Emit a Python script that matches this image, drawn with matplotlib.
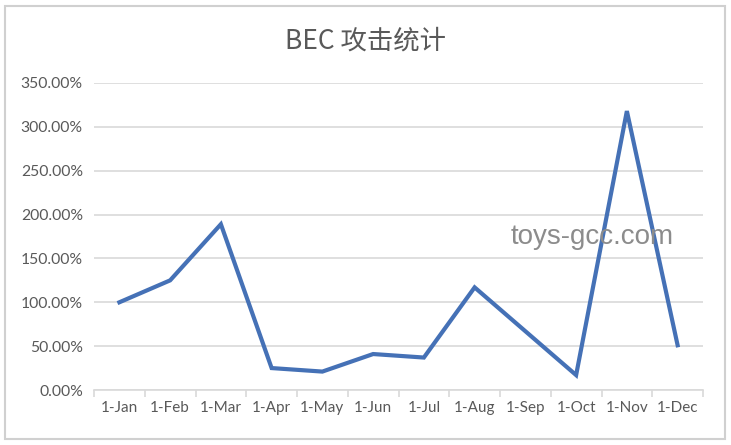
import numpy as np
import matplotlib.pyplot as plt
from matplotlib.patches import Rectangle
from matplotlib.ticker import FuncFormatter

months = ['1-Jan', '1-Feb', '1-Mar', '1-Apr', '1-May', '1-Jun',
          '1-Jul', '1-Aug', '1-Sep', '1-Oct', '1-Nov', '1-Dec']
rates = [1.00, 1.25, 1.89, 0.25, 0.21, 0.41, 0.37, 1.17, 0.67, 0.17, 3.18, 0.51]
yticks = [0, 0.5, 1.0, 1.5, 2.0, 2.5, 3.0, 3.5]

plt.rcParams['font.family'] = ['Lato', 'DejaVu Sans']
grey = '#595959'
line_grey = '#d9d9d9'

fig = plt.figure(figsize=(7.31, 4.45), dpi=100)
ax = fig.add_axes([94/731, 1 - 390/445, (703 - 94)/731, (390 - 83)/445])

x = np.arange(len(months))
ax.plot(x, rates, color='#4571B6', lw=3, solid_joinstyle='miter', zorder=3)

ax.set_xlim(-0.5, len(months) - 0.5)
ax.set_ylim(0, 3.5)
ax.set_yticks(yticks)
ax.yaxis.set_major_formatter(FuncFormatter(lambda v, p: f'{v*100:.2f}%'))
ax.grid(axis='y', color=line_grey, lw=1.2)
ax.set_axisbelow(True)

# category boundaries as tick marks, labels at the centres
ax.set_xticks(np.arange(-0.5, len(months)), labels=[])
ax.set_xticks(x, labels=months, minor=True)
ax.tick_params(axis='x', which='major', length=5, color=line_grey, width=1.2)
ax.tick_params(axis='x', which='minor', length=0, pad=8, labelsize=11, labelcolor=grey)
ax.tick_params(axis='y', length=0, pad=8, labelsize=11.3, labelcolor=grey)

for s in ['top', 'right', 'left']:
    ax.spines[s].set_visible(False)
ax.spines['bottom'].set_color(line_grey)
ax.spines['bottom'].set_linewidth(1.2)

fig.text(0.5, 1 - 41/445, 'BEC 攻击统计', ha='center', va='center', fontsize=19,
         color=grey, family=['Noto Sans CJK SC', 'DejaVu Sans'])

fig.text(592/731, 1 - 237/445, 'toys-gcc.com', ha='center', va='center',
         fontsize=20, color='#8c8c8c', family=['Liberation Sans'], zorder=5)

fig.patches.append(Rectangle((5/731, 6/445), 720/731, 433/445, transform=fig.transFigure,
                             fill=False, edgecolor='#d0d0d0', lw=1.5))

fig.savefig('out.png', dpi=100)
